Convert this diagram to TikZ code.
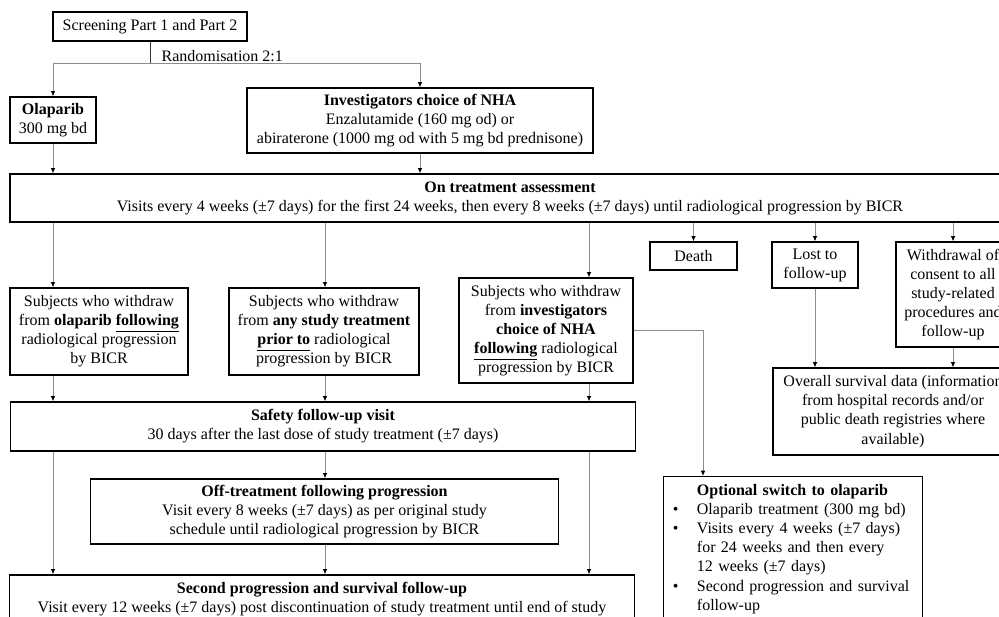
\documentclass[tikz,border=0pt]{standalone}
\usepackage{fontspec}
\setmainfont{Liberation Serif}
\usetikzlibrary{arrows.meta}
\tikzset{>={Latex[length=4pt,width=3.5pt]}}
\colorlet{Lcol}{black!45}
\tikzset{
  box/.style={draw, line width=0.9pt, align=center, inner sep=2pt,
    font=\fontsize{12}{14.3}\selectfont},
  wh/.style 2 args={minimum width=#1*0.75pt, minimum height=#2*0.75pt},
  link/.style={draw=Lcol, line width=0.7pt, -{Latex[length=4pt,width=3.5pt,black]}},
  trunk/.style={draw=black!80, line width=0.7pt},
}

\begin{document}
\begin{tikzpicture}[x=0.75pt, y=-0.75pt]
    \clip (0,0) rectangle (999,617);

    % x positions of the vertical connectors
    \coordinate (c1) at (53,0);
    \coordinate (c2) at (325,0);
    \coordinate (c3) at (589,0);
    \coordinate (c4) at (703,0);
    \coordinate (rnd) at (150,63);

    % randomisation
    \node[box, wh={194}{29}] (screen) at (150,26.5) {Screening Part 1 and Part 2};
    \node[box, wh={86}{46}] (olap) at (53,120) {\textbf{Olaparib}\\300 mg bd};
    \node[box, wh={346}{65}] (nha) at (420,120.5)
      {\textbf{Investigators choice of NHA}\\Enzalutamide\ (160 mg od) or\\abiraterone (1000 mg od with 5 mg bd prednisone)};
    \node[font=\fontsize{12}{14.3}\selectfont, anchor=south west, inner sep=1pt] (rndlbl) at (160,63) {Randomisation 2:1};

    \node[box, wh={1000}{48}] (ontreat) at (510,198)
      {\textbf{On treatment assessment}\\Visits every 4 weeks (±7 days) for the first 24 weeks, then every 8 weeks (±7 days) until radiological progression by BICR};

    % withdrawal and end of study
    \node[box, wh={178}{87}] (subj1) at (99,331.5)
      {Subjects who withdraw\\from \textbf{olaparib \underline{following}}\\radiological progression\\by BICR};
    \node[box, wh={190}{87}] (subj2) at (324,331.5)
      {Subjects who withdraw\\from \textbf{any study treatment}\\\textbf{\underline{prior to}} radiological\\progression by BICR};
    \node[box, wh={174}{105}] (subj3) at (546,330.5)
      {Subjects who withdraw\\from \textbf{investigators}\\\textbf{choice of NHA}\\\textbf{\underline{following}} radiological\\progression by BICR};
    \node[box, wh={87}{28}] (death) at (693.5,256) {Death};
    \node[box, wh={86}{46}] (lost) at (815,265) {Lost to\\follow-up};
    \node[box, wh={114}{105}] (withdr) at (953,294.5)
      {Withdrawal of\\consent to all\\study-related\\procedures and\\follow-up};
    \node[box, wh={240}{87}] (overall) at (893,411.5)
      {Overall survival data (information\\from hospital records and/or\\public death registries\ where\\available)};

    % follow-up
    \node[box, wh={625}{49}] (safety) at (323,426.5)
      {\textbf{Safety follow-up visit}\\30 days after the last dose of study treatment (±7 days)};
    \node[box, wh={468}{65}] (offtreat) at (324.5,511.5)
      {\textbf{Off-treatment following progression}\\Visit every 8 weeks (±7 days)\ as per original study\\schedule until radiological progression by BICR};
    \node[box, wh={625}{49}] (second) at (322,599.5)
      {\textbf{Second progression and survival follow-up}\\Visit every 12 weeks (±7 days) post discontinuation of study treatment until end of study};
    \node[box, anchor=north west, align=left, text width=180pt, inner xsep=7pt, inner ysep=6pt] (optional) at (663,476)
      {\hspace*{18pt}\textbf{Optional switch to olaparib}\\
       \makebox[18pt][l]{\textbullet}Olaparib treatment (300 mg bd)\\
       \makebox[18pt][l]{\textbullet}Visits every 4 weeks (±7 days)\\
       \hspace*{18pt}for 24 weeks and then every\\
       \hspace*{18pt}12 weeks (±7 days)\\
       \makebox[18pt][l]{\textbullet}Second progression and survival\\
       \hspace*{18pt}follow-up\\[6pt]};

    % connectors
    \draw[trunk] (screen.south) -- (rnd);
    \draw[link] (rnd) -| (olap.north);
    \draw[link] (rnd) -| (nha.north);
    \draw[link] (olap.south) -- (olap.south |- ontreat.north);
    \draw[link] (nha.south) -- (nha.south |- ontreat.north);

    \draw[link] (ontreat.south -| c1) -- (subj1.north -| c1);
    \draw[link] (ontreat.south -| c2) -- (subj2.north -| c2);
    \draw[link] (ontreat.south -| c3) -- (subj3.north -| c3);
    \draw[link] (ontreat.south -| death) -- (death.north);
    \draw[link] (ontreat.south -| lost) -- (lost.north);
    \draw[link] (ontreat.south -| withdr) -- (withdr.north);

    \draw[link] (lost.south) -- (lost.south |- overall.north);
    \draw[link] (withdr.south) -- (withdr.south |- overall.north);

    \draw[link] (subj1.south -| c1) -- (safety.north -| c1);
    \draw[link] (subj2.south -| c2) -- (safety.north -| c2);
    \draw[link] (subj3.south -| c3) -- (safety.north -| c3);
    \draw[link] (subj3.east) -| (optional.north -| c4);

    \draw[link] (safety.south -| c2) -- (offtreat.north -| c2);
    \draw[link] (offtreat.south -| c2) -- (second.north -| c2);
    \draw[link] (safety.south -| c1) -- (second.north -| c1);
    \draw[link] (safety.south -| c3) -- (second.north -| c3);
\end{tikzpicture}
\end{document}
